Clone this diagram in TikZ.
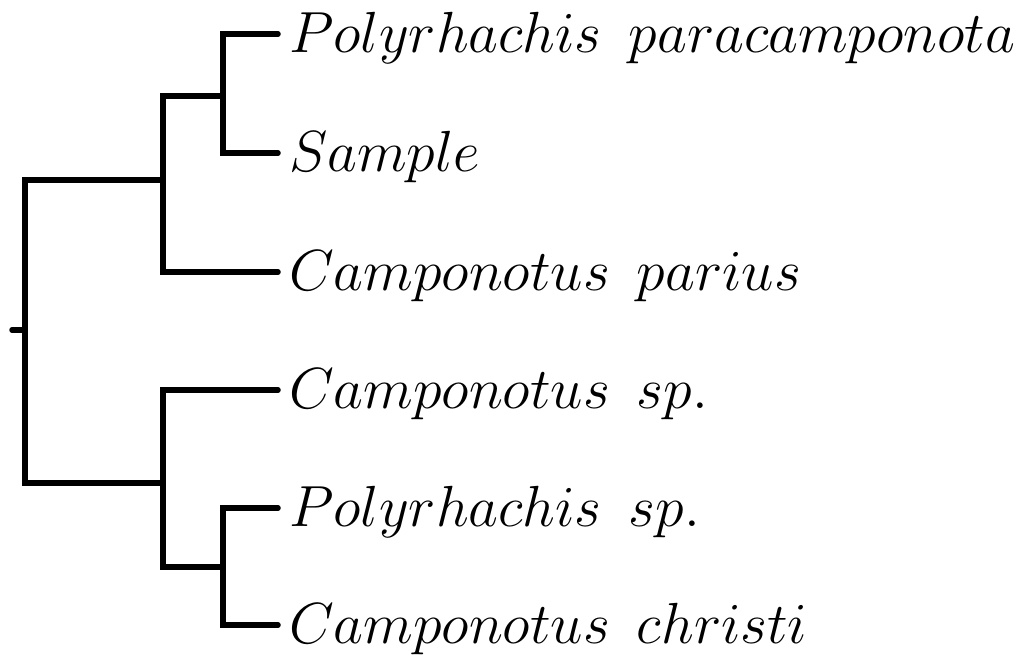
\RequirePackage{fix-cm}
\documentclass[tikz,border=0pt]{standalone}
\begin{document}
\begin{tikzpicture}[x=1pt,y=-1pt,
  branch/.style={line width=5.5pt, line cap=round, line join=miter},
  taxon/.style={anchor=base west, inner sep=0pt, xshift=11pt, yshift=-18pt,
    font=\fontsize{58}{62}\selectfont}]
\useasboundingbox (0,0) rectangle (1036,664);

% tips
\coordinate (pa) at (278,34);
\coordinate (sa) at (278,153);
\coordinate (cp) at (278,272);
\coordinate (cs) at (278,390);
\coordinate (ps) at (278,508);
\coordinate (cc) at (278,625);
% internal nodes
\coordinate (n1) at (223,96);
\coordinate (u) at (163,180);
\coordinate (r) at (25,330);
\coordinate (l) at (163,483);
\coordinate (n2) at (223,567);
\coordinate (stub) at (12,330);

% branches
\draw[branch] (pa) -| (n1) |- (sa);
\draw[branch] (n1) -| (u) |- (cp);
\draw[branch] (u) -| (r) |- (l);
\draw[branch] (cs) -| (l) |- (n2);
\draw[branch] (ps) -| (n2) |- (cc);
\draw[branch] (stub) -- (r);

% tip labels
\node[taxon] (tpa) at (pa) {$Polyrhachis\ \,paracamponota$};
\node[taxon] (tsa) at (sa) {$Sample$};
\node[taxon] (tcp) at (cp) {$Camponotus\ \,parius$};
\node[taxon] (tcs) at (cs) {$Camponotus\ \,sp.$};
\node[taxon] (tps) at (ps) {$Polyrhachis\ \,sp.$};
\node[taxon] (tcc) at (cc) {$Camponotus\ \,christi$};
\end{tikzpicture}
\end{document}
